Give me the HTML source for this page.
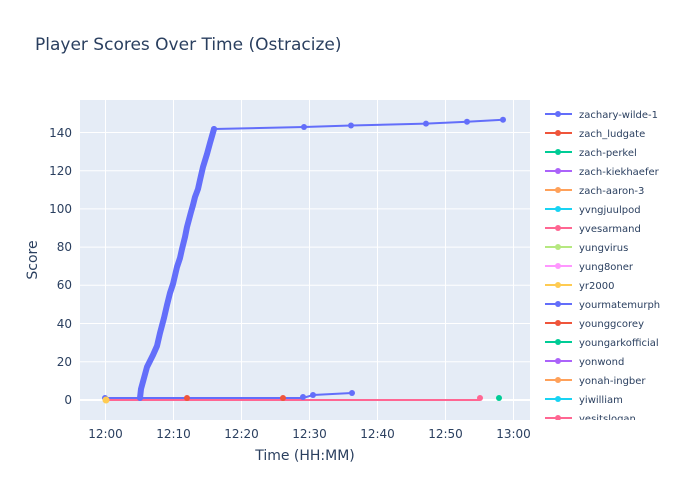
<!DOCTYPE html>
<html><head><meta charset="utf-8"><style>
body{margin:0;background:#fff;font-family:"DejaVu Sans",sans-serif}
</style></head><body>
<svg width="700" height="500" xmlns="http://www.w3.org/2000/svg" font-family="DejaVu Sans, sans-serif">
<rect width="700" height="500" fill="#fff"/>
<text x="35" y="50" font-size="17" fill="#2a3f5f">Player Scores Over Time (Ostracize)</text>
<rect x="80" y="100" width="450" height="320" fill="#e5ecf6"/>
<g stroke="#fff" stroke-width="1">
<line x1="105.5" y1="100" x2="105.5" y2="420"/><line x1="173.5" y1="100" x2="173.5" y2="420"/>
<line x1="241.5" y1="100" x2="241.5" y2="420"/><line x1="309.5" y1="100" x2="309.5" y2="420"/>
<line x1="377.5" y1="100" x2="377.5" y2="420"/><line x1="445.5" y1="100" x2="445.5" y2="420"/>
<line x1="513.5" y1="100" x2="513.5" y2="420"/>
<line x1="80" y1="132.5" x2="530" y2="132.5"/><line x1="80" y1="170.7" x2="530" y2="170.7"/>
<line x1="80" y1="208.9" x2="530" y2="208.9"/><line x1="80" y1="247.1" x2="530" y2="247.1"/>
<line x1="80" y1="285.3" x2="530" y2="285.3"/><line x1="80" y1="323.5" x2="530" y2="323.5"/>
<line x1="80" y1="361.7" x2="530" y2="361.7"/>
</g>
<line x1="80" y1="400" x2="530" y2="400" stroke="#fff" stroke-width="2"/>
<g font-size="12" fill="#2a3f5f" text-anchor="end">
<text x="72" y="137">140</text><text x="72" y="175">120</text><text x="72" y="213">100</text>
<text x="72" y="251">80</text><text x="72" y="289">60</text><text x="72" y="328">40</text>
<text x="72" y="366">20</text><text x="72" y="404">0</text>
</g>
<g font-size="12" fill="#2a3f5f" text-anchor="middle">
<text x="105.5" y="438">12:00</text><text x="173.5" y="438">12:10</text><text x="241.5" y="438">12:20</text>
<text x="309.5" y="438">12:30</text><text x="377.5" y="438">12:40</text><text x="445.5" y="438">12:50</text>
<text x="513.5" y="438">13:00</text>
</g>
<text x="305" y="460" font-size="14" fill="#2a3f5f" text-anchor="middle">Time (HH:MM)</text>
<text x="37" y="260" font-size="14" fill="#2a3f5f" text-anchor="middle" transform="rotate(-90 37 260)">Score</text>
<polyline points="105,400 480,400" fill="none" stroke="#ff6692" stroke-width="2"/>
<polyline points="105,398 303,398 313,395 352,393" fill="none" stroke="#636efa" stroke-width="2"/>
<g fill="#636efa"><circle cx="303" cy="397" r="3"/><circle cx="313" cy="395" r="3"/><circle cx="352" cy="393" r="3"/><circle cx="105" cy="398" r="3"/></g>
<polyline points="140,398 141,389 144,378 147,367 153,355 157,346 160,333 164,318 167,305 170,293 173,284 177,267 180,258 182,249 185,237 187,227 191,212 193,205 195,197 198,189 200,180 203,167 207,154 210,143 212,136 214,129" fill="none" stroke="#636efa" stroke-width="6" stroke-linecap="round" stroke-linejoin="round"/>
<polyline points="214,129 304,127 351,125.5 426,123.6 467,121.7 503,119.8" fill="none" stroke="#636efa" stroke-width="2"/>
<g fill="#636efa"><circle cx="214" cy="129" r="3"/><circle cx="304" cy="127" r="3"/><circle cx="351" cy="125.5" r="3"/><circle cx="426" cy="123.6" r="3"/><circle cx="467" cy="121.7" r="3"/><circle cx="503" cy="119.8" r="3"/></g>
<circle cx="187" cy="398" r="3" fill="#ef553b"/><circle cx="283" cy="398" r="3" fill="#ef553b"/>
<circle cx="480" cy="398" r="3" fill="#ff6692"/><circle cx="499" cy="398" r="3" fill="#00cc96"/>
<circle cx="106" cy="400" r="3.5" fill="#fecb52"/>
<g font-size="10" fill="#2a3f5f">
<g transform="translate(0,114)"><line x1="545" x2="572" stroke="#636efa" stroke-width="2"/><circle cx="558" r="3" fill="#636efa"/><text x="579" y="4">zachary-wilde-1</text></g>
<g transform="translate(0,133)"><line x1="545" x2="572" stroke="#ef553b" stroke-width="2"/><circle cx="558" r="3" fill="#ef553b"/><text x="579" y="4">zach_ludgate</text></g>
<g transform="translate(0,152)"><line x1="545" x2="572" stroke="#00cc96" stroke-width="2"/><circle cx="558" r="3" fill="#00cc96"/><text x="579" y="4">zach-perkel</text></g>
<g transform="translate(0,171)"><line x1="545" x2="572" stroke="#ab63fa" stroke-width="2"/><circle cx="558" r="3" fill="#ab63fa"/><text x="579" y="4">zach-kiekhaefer</text></g>
<g transform="translate(0,190)"><line x1="545" x2="572" stroke="#ffa15a" stroke-width="2"/><circle cx="558" r="3" fill="#ffa15a"/><text x="579" y="4">zach-aaron-3</text></g>
<g transform="translate(0,209)"><line x1="545" x2="572" stroke="#19d3f3" stroke-width="2"/><circle cx="558" r="3" fill="#19d3f3"/><text x="579" y="4">yvngjuulpod</text></g>
<g transform="translate(0,228)"><line x1="545" x2="572" stroke="#ff6692" stroke-width="2"/><circle cx="558" r="3" fill="#ff6692"/><text x="579" y="4">yvesarmand</text></g>
<g transform="translate(0,247)"><line x1="545" x2="572" stroke="#b6e880" stroke-width="2"/><circle cx="558" r="3" fill="#b6e880"/><text x="579" y="4">yungvirus</text></g>
<g transform="translate(0,266)"><line x1="545" x2="572" stroke="#ff97ff" stroke-width="2"/><circle cx="558" r="3" fill="#ff97ff"/><text x="579" y="4">yung8oner</text></g>
<g transform="translate(0,285)"><line x1="545" x2="572" stroke="#fecb52" stroke-width="2"/><circle cx="558" r="3" fill="#fecb52"/><text x="579" y="4">yr2000</text></g>
<g transform="translate(0,304)"><line x1="545" x2="572" stroke="#636efa" stroke-width="2"/><circle cx="558" r="3" fill="#636efa"/><text x="579" y="4">yourmatemurph</text></g>
<g transform="translate(0,323)"><line x1="545" x2="572" stroke="#ef553b" stroke-width="2"/><circle cx="558" r="3" fill="#ef553b"/><text x="579" y="4">younggcorey</text></g>
<g transform="translate(0,342)"><line x1="545" x2="572" stroke="#00cc96" stroke-width="2"/><circle cx="558" r="3" fill="#00cc96"/><text x="579" y="4">youngarkofficial</text></g>
<g transform="translate(0,361)"><line x1="545" x2="572" stroke="#ab63fa" stroke-width="2"/><circle cx="558" r="3" fill="#ab63fa"/><text x="579" y="4">yonwond</text></g>
<g transform="translate(0,380)"><line x1="545" x2="572" stroke="#ffa15a" stroke-width="2"/><circle cx="558" r="3" fill="#ffa15a"/><text x="579" y="4">yonah-ingber</text></g>
<g transform="translate(0,399)"><line x1="545" x2="572" stroke="#19d3f3" stroke-width="2"/><circle cx="558" r="3" fill="#19d3f3"/><text x="579" y="4">yiwilliam</text></g>
<g transform="translate(0,418)"><line x1="545" x2="572" stroke="#ff6692" stroke-width="2"/><circle cx="558" r="3" fill="#ff6692"/><text x="579" y="4">yesitslogan</text></g>
</g>
<rect x="540" y="420" width="160" height="20" fill="#fff"/>
</svg>
</body></html>
